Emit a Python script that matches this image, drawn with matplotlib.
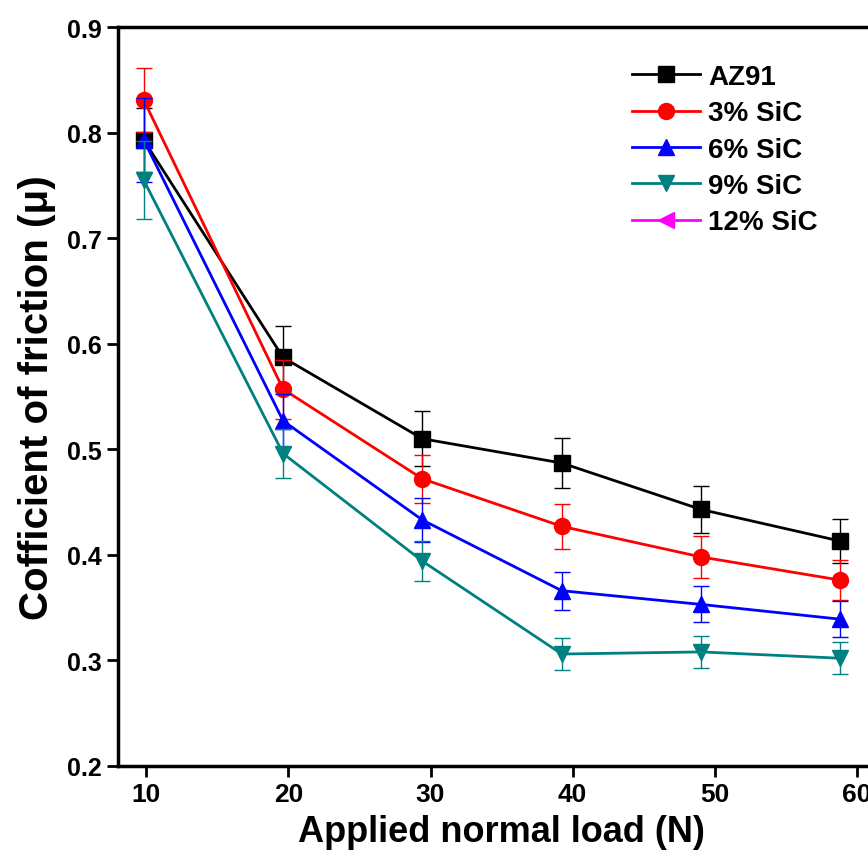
import matplotlib.pyplot as plt

# data
loads = [9.81, 19.62, 29.43, 39.24, 49.05, 58.86]
az91 = [0.793, 0.587, 0.510, 0.487, 0.443, 0.413]
az91_err = [0.030, 0.030, 0.026, 0.024, 0.022, 0.021]
sic3 = [0.831, 0.557, 0.472, 0.427, 0.398, 0.376]
sic3_err = [0.030, 0.028, 0.023, 0.021, 0.020, 0.019]
sic6 = [0.793, 0.527, 0.433, 0.366, 0.353, 0.339]
sic6_err = [0.040, 0.025, 0.021, 0.018, 0.017, 0.017]
sic9 = [0.755, 0.496, 0.394, 0.306, 0.308, 0.302]
sic9_err = [0.037, 0.023, 0.019, 0.015, 0.015, 0.015]

plt.rcParams['font.family'] = ['Liberation Sans', 'DejaVu Sans']
plt.rcParams['font.weight'] = 'bold'

fig = plt.figure(figsize=(8.68, 8.54), dpi=100)
ax = fig.add_axes([0.136, 0.102, 0.8836, 0.865])

series = [
    ('AZ91', az91, az91_err, 'black', 's'),
    ('3% SiC', sic3, sic3_err, 'red', 'o'),
    ('6% SiC', sic6, sic6_err, 'blue', '^'),
    ('9% SiC', sic9, sic9_err, '#008080', 'v'),
]
for label, vals, err, col, mk in series:
    ax.errorbar(loads, vals, yerr=err, fmt='none', ecolor=col,
                elinewidth=1.0, capsize=6, capthick=1.0)
    ax.plot(loads, vals, color=col, marker=mk, markersize=11.5,
            linewidth=2.0, label=label)
# 12% SiC appears only in the legend
ax.plot([], [], color='magenta', marker='<', markersize=11.5, linewidth=2.0,
        label='12% SiC')

ax.set_xlim(8, 62)
ax.set_ylim(0.2, 0.9)
ax.set_xticks([10, 20, 30, 40, 50, 60])
ax.set_yticks([0.2, 0.3, 0.4, 0.5, 0.6, 0.7, 0.8, 0.9])
ax.tick_params(direction='out', length=8, width=2, labelsize=18)
ax.tick_params(axis='x', labelsize=19)
for sp in ax.spines.values():
    sp.set_linewidth(2.5)

ax.set_xlabel('Applied normal load (N)', fontsize=26, fontweight='bold', labelpad=6)
ax.set_ylabel('Cofficient of friction (\u03bc)', fontsize=29, fontweight='bold',
              labelpad=8)

ax.legend(loc='upper left', bbox_to_anchor=(0.67, 0.950), frameon=False,
          fontsize=20, handlelength=2.45, handletextpad=0.3, labelspacing=0.37,
          borderpad=0, borderaxespad=0)

fig.savefig('out.png', dpi=100)
